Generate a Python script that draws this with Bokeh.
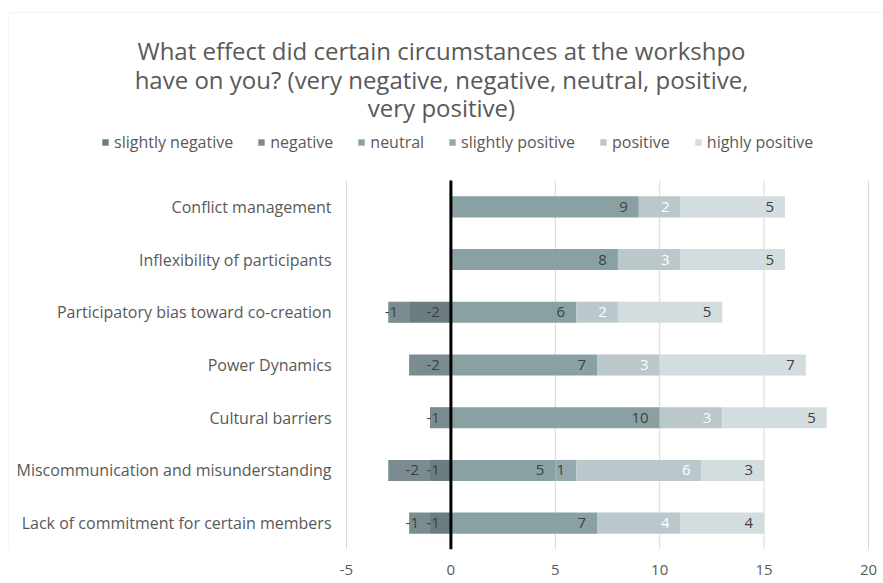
from bokeh.plotting import figure
from bokeh.models import (ColumnDataSource, Range1d, FixedTicker, LabelSet,
                          Label, Legend, LegendItem, BoxAnnotation)
from bokeh.core.properties import value
from bokeh.embed import file_html
from bokeh.resources import INLINE

# Workshop circumstances and the number of answers per rating
categories = [
    "Conflict management",
    "Inflexibility of participants",
    "Participatory bias toward co-creation",
    "Power Dynamics",
    "Cultural barriers",
    "Miscommunication and misunderstanding",
    "Lack of commitment for certain members",
]
slightly_negative = [0, 0, -2, 0, 0, -1, -1]
negative = [0, 0, -1, -2, -1, -2, -1]
neutral = [9, 8, 6, 7, 10, 5, 7]
slightly_positive = [0, 0, 0, 0, 0, 1, 0]
positive = [2, 3, 2, 3, 3, 6, 4]
highly_positive = [5, 5, 5, 7, 5, 3, 4]

series_names = ["slightly negative", "negative", "neutral",
                "slightly positive", "positive", "highly positive"]
series_values = [slightly_negative, negative, neutral,
                 slightly_positive, positive, highly_positive]
series_colors = ["#6b7d81", "#7a8c90", "#8aa1a4", "#93a9ac", "#bac8cb", "#d3dcde"]
label_colors = ["#404040", "#404040", "#404040", "#404040", "#ffffff", "#404040"]

x_ticks = [-5, 0, 5, 10, 15, 20]

title_lines = [
    "What effect did certain circumstances at the workshpo",
    "have on you? (very negative, negative, neutral, positive,",
    "very positive)",
]

FONT = "Open Sans"
GREY = "#595959"

# Canvas geometry (pixels)
W, H = 883, 583
PLOT_LEFT, PLOT_RIGHT = 346, 868      # where x = -5 and x = 20 sit
PLOT_TOP, PLOT_BOTTOM = 180, 549      # top and bottom of the bar area

n = len(categories)
px_per_unit = (PLOT_RIGHT - PLOT_LEFT) / (x_ticks[-1] - x_ticks[0])
x_start = x_ticks[0] - PLOT_LEFT / px_per_unit
x_end = x_ticks[-1] + (W - PLOT_RIGHT) / px_per_unit
band_px = (PLOT_BOTTOM - PLOT_TOP) / n
y_end = PLOT_BOTTOM / band_px

# first category on top
rows = [n - 1 - i + 0.5 for i in range(n)]

p = figure(width=W, height=H, output_backend="svg", toolbar_location=None,
           x_range=Range1d(x_start, x_end), y_range=Range1d(0, y_end),
           y_axis_location=None, min_border=0, min_border_bottom=H - PLOT_BOTTOM)

# vertical gridlines over the bar area only
p.segment(x0=x_ticks, y0=[0] * len(x_ticks), x1=x_ticks, y1=[n] * len(x_ticks),
          line_color="#d9d9d9", line_width=1)

# Diverging stack: negatives grow leftwards from zero, the rest rightwards
neg_edge = [0] * n
pos_edge = [0] * n
legend_items = []
label_sets = []
for name, vals, color, lcolor in zip(series_names, series_values,
                                     series_colors, label_colors):
    lefts, rights = [], []
    for i, v in enumerate(vals):
        if v < 0:
            rights.append(neg_edge[i])
            neg_edge[i] += v
            lefts.append(neg_edge[i])
        else:
            lefts.append(pos_edge[i])
            pos_edge[i] += v
            rights.append(pos_edge[i])
    src = ColumnDataSource(dict(y=rows, left=lefts, right=rights, v=vals))
    r = p.hbar(y="y", left="left", right="right", height=0.4, source=src,
               fill_color=color, line_color=None)
    legend_items.append(LegendItem(label=name, renderers=[r]))

    keep = [i for i, v in enumerate(vals) if v != 0]
    lsrc = ColumnDataSource(dict(
        y=[rows[i] for i in keep],
        x=[rights[i] for i in keep],
        t=[str(vals[i]) for i in keep],
    ))
    label_sets.append(LabelSet(x="x", y="y", text="t", source=lsrc,
                               x_offset=-11, text_align="right",
                               text_baseline="middle", text_font=value(FONT),
                               text_font_size="15px", text_color=lcolor))

# zero line
p.segment(x0=[0], y0=[0], x1=[0], y1=[n], line_color="black", line_width=3)

for ls in label_sets:
    p.add_layout(ls)

# category names to the left of the bars
cat_src = ColumnDataSource(dict(x=[x_ticks[0]] * n, y=rows, t=categories))
p.add_layout(LabelSet(x="x", y="y", text="t", source=cat_src, x_offset=-15,
                      text_align="right", text_baseline="middle",
                      text_font=value(FONT), text_font_size="16px",
                      text_color=GREY))

# title, one centred label per line
for k, line in enumerate(title_lines):
    baseline = 50 + 28.5 * k
    p.add_layout(Label(x=441, y=PLOT_BOTTOM - baseline, x_units="screen",
                       y_units="screen", text=line, text_align="center",
                       text_baseline="alphabetic", text_font=FONT,
                       text_font_size="24px", text_color=GREY))

legend = Legend(items=legend_items, orientation="horizontal",
                location=(101, PLOT_BOTTOM - 153), glyph_width=8, glyph_height=8,
                label_standoff=5, spacing=24, padding=0, margin=0,
                border_line_color=None, background_fill_alpha=0,
                label_text_font=FONT, label_text_font_size="16px",
                label_text_color=GREY, label_height=18)
p.add_layout(legend, "center")

# light frame around the chart area
p.add_layout(BoxAnnotation(left=8, right=W + 50, top=PLOT_BOTTOM - 12,
                           bottom=-100, left_units="screen",
                           right_units="screen", top_units="screen",
                           bottom_units="screen", fill_alpha=0,
                           line_color="#d9d9d9", line_width=1))

p.xaxis.ticker = FixedTicker(ticks=x_ticks)
p.xaxis.major_label_overrides = {t: str(t) for t in x_ticks}
p.xaxis.axis_line_color = None
p.xaxis.major_tick_line_color = None
p.xaxis.minor_tick_line_color = None
p.xaxis.major_tick_out = 0
p.xaxis.major_label_standoff = 15
p.xaxis.major_label_text_font = FONT
p.xaxis.major_label_text_font_size = "15px"
p.xaxis.major_label_text_color = GREY

p.xgrid.grid_line_color = None
p.ygrid.grid_line_color = None
p.outline_line_color = None
p.background_fill_color = "white"
p.border_fill_color = "white"

open("out.html", "w").write(file_html(p, INLINE))
